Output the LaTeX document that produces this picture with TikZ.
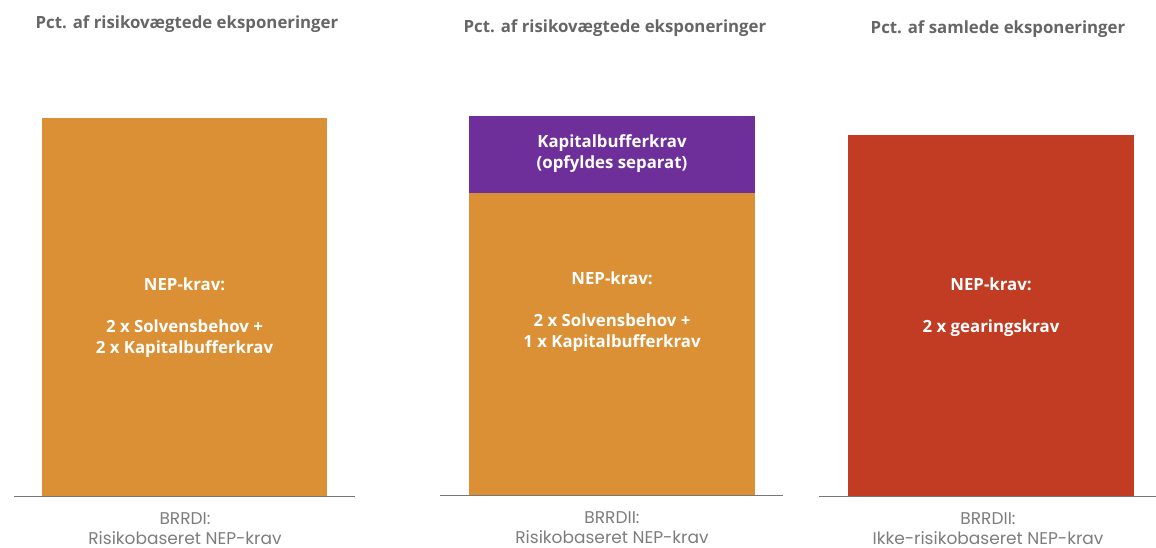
\documentclass[tikz,border=0pt]{standalone}
\usepackage{fontspec}
\setmainfont{Open Sans}
\newfontfamily\lightsans{Poppins}
\usepackage{xcolor}
\definecolor{nepgold}{HTML}{DC9035}
\definecolor{bufferpurple}{HTML}{6E2F9A}
\definecolor{gearred}{HTML}{C13C22}
\definecolor{labelgray}{HTML}{666666}
\definecolor{axisgray}{HTML}{777777}

\tikzset{
  heading/.style={anchor=base, text=labelgray, font=\bfseries\fontsize{16.8}{20}\selectfont},
  inbar/.style={anchor=base, text=white, align=center, font=\bfseries\fontsize{16.8}{21}\selectfont},
  caption/.style={anchor=base, text=labelgray!85, align=center, inner sep=0pt, font=\lightsans\fontsize{17}{20}\selectfont},
  baseline/.style={axisgray, line width=1.2pt}
}

\begin{document}
\begin{tikzpicture}[x=1pt, y=-1pt]
\useasboundingbox (0,0) rectangle (1156,548);
% bar corners
\coordinate (A1) at (42,118);   \coordinate (A2) at (327,496);
\coordinate (B1) at (469,116);  \coordinate (Bm) at (755,193);
\coordinate (B2) at (755,495);
\coordinate (C1) at (848,135);  \coordinate (C2) at (1134,496);

\fill[nepgold] (A1) rectangle (A2);
\fill[bufferpurple] (B1) rectangle (Bm);
\fill[nepgold] (469,193) rectangle (B2);
\fill[gearred] (C1) rectangle (C2);

% axis lines
\draw[baseline] (14,496.5) -- (355,496.5);
\draw[baseline] (440,495.5) -- (783,495.5);
\draw[baseline] (819,496.5) -- (1156,496.5);

% headings
\node[heading] (h1) at (187,29) {Pct. af risikovægtede eksponeringer};
\node[heading] (h2) at (615,33) {Pct. af risikovægtede eksponeringer};
\node[heading] (h3) at (998,34) {Pct. af samlede eksponeringer};

% text in the bars (base = last line)
\node[inbar] (a1) at (184.5,290) {NEP-krav:};
\node[inbar] (a2) at (184.5,353) {2 x Solvensbehov +\\2 x Kapitalbufferkrav};
\node[inbar] (b0) at (612,169) {Kapitalbufferkrav\\(opfyldes separat)};
\node[inbar] (b1) at (612,284) {NEP-krav:};
\node[inbar] (b2) at (612,347) {2 x Solvensbehov +\\1 x Kapitalbufferkrav};
\node[inbar] (c1) at (991,290) {NEP-krav:};
\node[inbar] (c2) at (991,332) {2 x gearingskrav};

% captions under the axis
\node[caption] (s1) at (185,544) {BRRDI:\\Risikobaseret NEP-krav};
\node[caption] (s2) at (612,543) {BRRDII:\\Risikobaseret NEP-krav};
\node[caption] (s3) at (988,544) {BRRDII:\\Ikke-risikobaseret NEP-krav};
\end{tikzpicture}
\end{document}
